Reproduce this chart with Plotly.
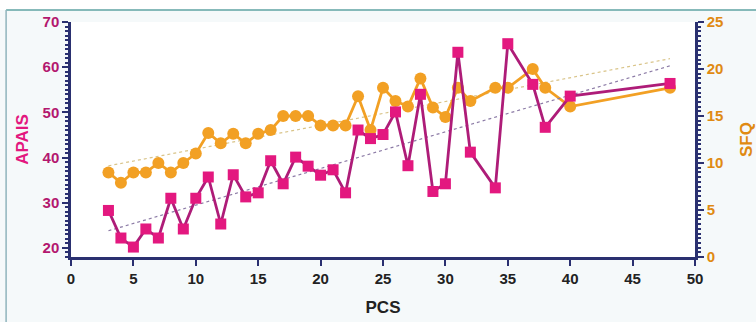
import plotly.graph_objects as go

# ---- data ----
pcs = [3, 4, 5, 6, 7, 8, 9, 10, 11, 12, 13, 14, 15, 16, 17, 18, 19, 20, 21, 22,
       23, 24, 25, 26, 27, 28, 29, 30, 31, 32, 34, 35, 37, 38, 40, 48]
apais = [28.3, 22.2, 20.2, 24.2, 22.2, 31.0, 24.2, 31.0, 35.7, 25.3, 36.2, 31.3,
         32.2, 39.3, 34.2, 40.1, 38.1, 36.1, 37.3, 32.2, 46.1, 44.2, 45.1, 50.1,
         38.2, 54.0, 32.5, 34.2, 63.3, 41.2, 33.3, 65.2, 56.2, 46.7, 53.6, 56.4]
sfq = [9.0, 7.9, 9.0, 9.0, 10.0, 9.0, 10.0, 11.0, 13.2, 12.1, 13.1, 12.1, 13.1,
       13.5, 15.0, 15.0, 15.0, 14.0, 14.0, 14.0, 17.1, 13.5, 18.0, 16.6, 16.0,
       19.0, 15.9, 14.9, 18.0, 16.6, 18.0, 18.0, 20.0, 18.0, 16.0, 18.0]
trend_x = [3, 48]
apais_trend = [23.8, 60.3]
sfq_trend = [9.7, 21.1]

x_ticks = [0, 5, 10, 15, 20, 25, 30, 35, 40, 45, 50]
apais_ticks = [20, 30, 40, 50, 60, 70]
sfq_ticks = [0, 5, 10, 15, 20, 25]

NAVY = "#2A3070"
MAG = "#E3187F"
MAG_LINE = "#AE1C78"
MAG_TXT = "#B3176E"
ORA = "#F2A024"
ORA_TXT = "#E08A12"

fig = go.Figure()

# SFQ on base axis (drawn underneath)
fig.add_trace(go.Scatter(x=trend_x, y=sfq_trend, mode="lines", yaxis="y",
                         line=dict(color="#D9C489", width=1.2, dash="dot"),
                         showlegend=False, hoverinfo="skip"))
fig.add_trace(go.Scatter(x=pcs, y=sfq, mode="lines+markers", yaxis="y",
                         line=dict(color=ORA, width=2.8),
                         marker=dict(symbol="circle", size=12, color=ORA),
                         showlegend=False))
# APAIS on overlaying axis (drawn on top)
fig.add_trace(go.Scatter(x=trend_x, y=apais_trend, mode="lines", yaxis="y2",
                         line=dict(color="#8C7BA6", width=1.2, dash="dot"),
                         showlegend=False, hoverinfo="skip"))
fig.add_trace(go.Scatter(x=pcs, y=apais, mode="lines+markers", yaxis="y2",
                         line=dict(color=MAG_LINE, width=2.8),
                         marker=dict(symbol="square", size=11, color=MAG),
                         showlegend=False))

tickfont = dict(family="Liberation Sans", size=15, weight="bold")

fig.update_layout(
    width=756, height=322,
    margin=dict(l=71, r=61, t=22, b=65),
    paper_bgcolor="#F5F9FA",
    plot_bgcolor="white",
    xaxis=dict(range=[0, 50], tickvals=x_ticks, showgrid=False, zeroline=False,
               automargin=False,
               showline=True, linecolor=NAVY, linewidth=2.5,
               ticks="outside", ticklen=6, tickwidth=2, tickcolor=NAVY,
               tickfont=dict(tickfont, color="#222222"),
               title=dict(text="<b>PCS</b>", standoff=16,
                          font=dict(family="Liberation Sans", size=17, color="#222222"))),
    yaxis=dict(range=[0, 25], tickvals=sfq_ticks, side="right", showgrid=False,
               automargin=False,
               zeroline=False, showline=True, linecolor=NAVY, linewidth=2.5,
               ticks="outside", ticklen=6, tickwidth=2, tickcolor=NAVY,
               minor=dict(dtick=0.5, ticks="outside", ticklen=3, tickwidth=2,
                          tickcolor=NAVY, showgrid=False),
               tickfont=dict(tickfont, color=ORA_TXT),
               title=dict(text="<b>SFQ</b>", standoff=20,
                          font=dict(family="Liberation Sans", size=17, color=ORA_TXT))),
    yaxis2=dict(range=[18, 70], tickvals=apais_ticks, side="left", overlaying="y",
                automargin=False,
                showgrid=False, zeroline=False, showline=True, linecolor=NAVY,
                linewidth=2.5, ticks="outside", ticklen=6, tickwidth=2,
                tickcolor=NAVY,
                minor=dict(dtick=1, ticks="outside", ticklen=3, tickwidth=2,
                           tickcolor=NAVY, showgrid=False),
                tickfont=dict(tickfont, color=MAG_TXT),
                title=dict(text="<b>APAIS</b>", standoff=10,
                           font=dict(family="Liberation Sans", size=17, color=MAG))),
    shapes=[
        dict(type="rect", xref="paper", yref="paper", x0=-0.2, x1=1.2,
             y0=1.051, y1=1.2, fillcolor="white", line=dict(width=0), layer="below"),
        dict(type="line", xref="paper", yref="paper", x0=-0.104, x1=1.2,
             y0=1.051, y1=1.051, line=dict(color="#5FA3A3", width=1.5)),
        dict(type="line", xref="paper", yref="paper", x0=-0.104, x1=-0.104,
             y0=-0.4, y1=1.051, line=dict(color="#8FB4BC", width=1.5)),
    ],
)

fig.write_html("out.html", config={"displayModeBar": False},
               post_script="document.body.style.margin='0';document.body.style.overflow='hidden';")
